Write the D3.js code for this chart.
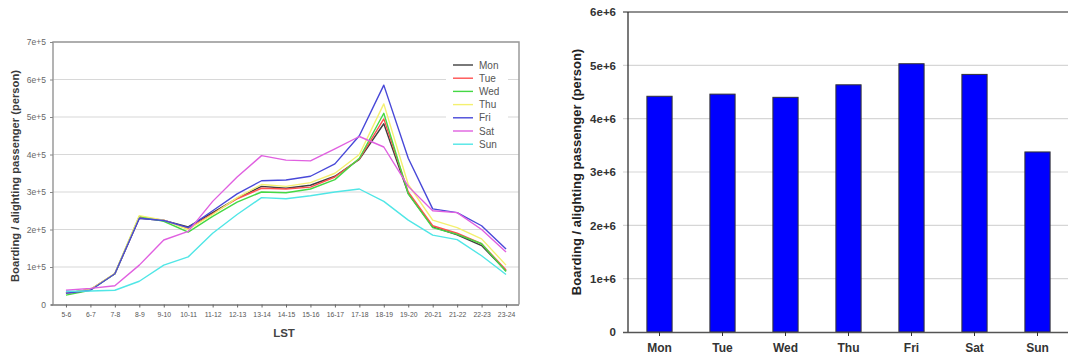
<!DOCTYPE html>
<html>
<head>
<meta charset="utf-8">
<script src="https://cdn.jsdelivr.net/npm/d3@7"></script>
<style>
  body { margin: 0; background: #fff; }
  svg { display: block; font-family: Arial, "Liberation Sans", sans-serif; }
</style>
</head>
<body>
<svg id="chart" width="1068" height="358"></svg>
<script>
// hourly boarding / alighting by day (left panel)
const hours = ['5-6', '6-7', '7-8', '8-9', '9-10', '10-11', '11-12', '12-13', '13-14', '14-15',
  '15-16', '16-17', '17-18', '18-19', '19-20', '20-21', '21-22', '22-23', '23-24']
const days = ['Mon', 'Tue', 'Wed', 'Thu', 'Fri', 'Sat', 'Sun']
const dayColors = ['#404040', '#ff5050', '#44d844', '#f4f070', '#4848d8', '#e060e0', '#50e6e6']

const mon = [30000, 40000, 82000, 230000, 224000, 207000, 245000, 283000, 315000, 310000, 318000, 342000, 387000, 482000, 296000, 207000, 186000, 157000, 90000]
const tue = [30000, 40000, 82000, 233000, 225000, 202000, 242000, 282000, 310000, 308000, 313000, 340000, 388000, 495000, 300000, 210000, 190000, 162000, 92000]
const wed = [25000, 38000, 82000, 235000, 222000, 193000, 235000, 273000, 300000, 298000, 308000, 333000, 390000, 510000, 295000, 205000, 187000, 162000, 88000]
const thu = [30000, 40000, 83000, 237000, 225000, 200000, 240000, 285000, 320000, 315000, 325000, 350000, 400000, 535000, 320000, 225000, 205000, 175000, 105000]
const fri = [30000, 38000, 82000, 230000, 224000, 205000, 250000, 295000, 330000, 332000, 342000, 375000, 450000, 585000, 390000, 255000, 245000, 210000, 148000]
const sat = [38000, 43000, 50000, 105000, 172000, 195000, 275000, 340000, 397000, 385000, 383000, 415000, 448000, 420000, 315000, 250000, 245000, 200000, 140000]
const sun = [35000, 36000, 38000, 62000, 105000, 127000, 190000, 240000, 285000, 282000, 290000, 300000, 308000, 275000, 225000, 185000, 173000, 130000, 80000]
const hourly = [mon, tue, wed, thu, fri, sat, sun]
const lineTicks = [0, 100000, 200000, 300000, 400000, 500000, 600000, 700000]

// daily totals (right panel)
const totals = [4420000, 4460000, 4400000, 4635000, 5030000, 4830000, 3376000]
const barTicks = [0, 1000000, 2000000, 3000000, 4000000, 5000000, 6000000]

const yTitle = 'Boarding / alighting passenger (person)'
const sciFmt = v => v === 0 ? '0' : (v / Math.pow(10, Math.floor(Math.log10(v)))) + 'e+' + Math.floor(Math.log10(v))

let svg = d3.select('#chart')

// ---------- left panel ----------
let L = { left: 53, right: 519, top: 42, bottom: 304.5 }

let x1 = d3.scalePoint()
  .domain(hours)
  .range([L.left, L.right])
  .padding(0.53)

let y1 = d3.scaleLinear()
  .domain([0, 700000])
  .range([L.bottom, L.top])

let left = svg.append('g')

left.append('g')
  .selectAll('line')
  .data(lineTicks.slice(1))
  .enter().append('line')
    .attr('x1', L.left).attr('x2', L.right)
    .attr('y1', d => y1(d)).attr('y2', d => y1(d))
    .attr('stroke', '#d8d8d8').attr('stroke-width', 1.2)

// legend background hides the grid
left.append('rect')
  .attr('x', 446).attr('y', 57).attr('width', 62).attr('height', 95)
  .attr('fill', '#fff')

let line = d3.line()
  .x((d, i) => x1(hours[i]))
  .y(d => y1(d))

left.append('g')
  .selectAll('path')
  .data(hourly)
  .enter().append('path')
    .attr('d', line)
    .attr('fill', 'none')
    .attr('stroke', (d, i) => dayColors[i])
    .attr('stroke-width', 1.4)
    .attr('stroke-linejoin', 'round')

// frame
left.append('path')
  .attr('d', `M${L.left},${L.bottom}V${L.top}H${L.right}V${L.bottom}`)
  .attr('fill', 'none').attr('stroke', '#9a9a9a').attr('stroke-width', 1.5)

let yAxis1 = left.append('g')
  .attr('transform', `translate(${L.left},0)`)
  .call(d3.axisLeft(y1).tickValues(lineTicks).tickFormat(sciFmt).tickSize(3).tickPadding(4))
yAxis1.select('.domain').remove()
yAxis1.selectAll('line').attr('stroke', '#888')
yAxis1.selectAll('text').attr('fill', '#666').style('font-size', '8.5px')

let xAxis1 = left.append('g')
  .attr('transform', `translate(0,${L.bottom})`)
  .call(d3.axisBottom(x1).tickSize(3).tickSizeOuter(0).tickPadding(5))
xAxis1.select('.domain').attr('d', `M${L.left - 2},0.5H${L.right}`).attr('stroke', '#777').attr('stroke-width', 1.5)
xAxis1.selectAll('line').attr('stroke', '#666')
xAxis1.selectAll('text').attr('fill', '#555').style('font-size', '6.8px')

left.append('text')
  .attr('x', (L.left + L.right) / 2 - 2).attr('y', 337)
  .attr('text-anchor', 'middle')
  .attr('fill', '#444').style('font-size', '11.5px').style('font-weight', 'bold')
  .text('LST')

left.append('text')
  .attr('transform', 'translate(19,176) rotate(-90)')
  .attr('text-anchor', 'middle')
  .attr('fill', '#3a3a3a').style('font-size', '11.2px').style('font-weight', 'bold')
  .text(yTitle)

let legend = left.append('g')
  .selectAll('g')
  .data(days)
  .enter().append('g')
    .attr('transform', (d, i) => `translate(453,${65 + i * 13.2})`)

legend.append('line')
  .attr('x1', 0).attr('x2', 20)
  .attr('stroke', (d, i) => dayColors[i]).attr('stroke-width', 1.4)

legend.append('text')
  .attr('x', 26).attr('y', 3.5)
  .attr('fill', '#555').style('font-size', '10px')
  .text(d => d)

// ---------- right panel ----------
let R = { left: 628, right: 1069, top: 12, bottom: 332 }

let x2 = d3.scaleBand()
  .domain(days)
  .range([R.left, R.right])
  .paddingInner(0.6)
  .paddingOuter(0.3)

let y2 = d3.scaleLinear()
  .domain([0, 6000000])
  .range([R.bottom, R.top])

let right = svg.append('g')

right.append('g')
  .selectAll('line')
  .data(barTicks.slice(1, -1))
  .enter().append('line')
    .attr('x1', R.left - 5).attr('x2', 1068)
    .attr('y1', d => y2(d)).attr('y2', d => y2(d))
    .attr('stroke', '#d6d6d6').attr('stroke-width', 1.2)

right.append('g')
  .selectAll('rect')
  .data(totals)
  .enter().append('rect')
    .attr('x', (d, i) => x2(days[i]))
    .attr('y', d => y2(d))
    .attr('width', x2.bandwidth())
    .attr('height', d => R.bottom - y2(d))
    .attr('fill', '#0000ff')
    .attr('stroke', '#333').attr('stroke-width', 1)

right.append('path')
  .attr('d', `M${R.left - 5},${R.top}H1068M${R.left},${R.top}V${R.bottom}`)
  .attr('fill', 'none').attr('stroke', '#222').attr('stroke-width', 1.2)

let yAxis2 = right.append('g')
  .attr('transform', `translate(${R.left},0)`)
  .call(d3.axisLeft(y2).tickValues(barTicks).tickFormat(sciFmt).tickSize(0).tickPadding(12))
yAxis2.select('.domain').remove()
yAxis2.selectAll('text').attr('fill', '#333').style('font-size', '11.5px').style('font-weight', 'bold')

let xAxis2 = right.append('g')
  .attr('transform', `translate(0,${R.bottom})`)
  .call(d3.axisBottom(x2).tickSize(4).tickSizeOuter(0).tickPadding(7))
xAxis2.select('.domain').attr('d', `M${R.left - 5},0.5H1068`).attr('stroke', '#555').attr('stroke-width', 1.5)
xAxis2.selectAll('line').attr('stroke', '#333')
xAxis2.selectAll('text').attr('fill', '#333').style('font-size', '12px').style('font-weight', 'bold')

right.append('text')
  .attr('transform', 'translate(581,172) rotate(-90)')
  .attr('text-anchor', 'middle')
  .attr('fill', '#222').style('font-size', '13px').style('font-weight', 'bold')
  .text(yTitle)
</script>
</body>
</html>
